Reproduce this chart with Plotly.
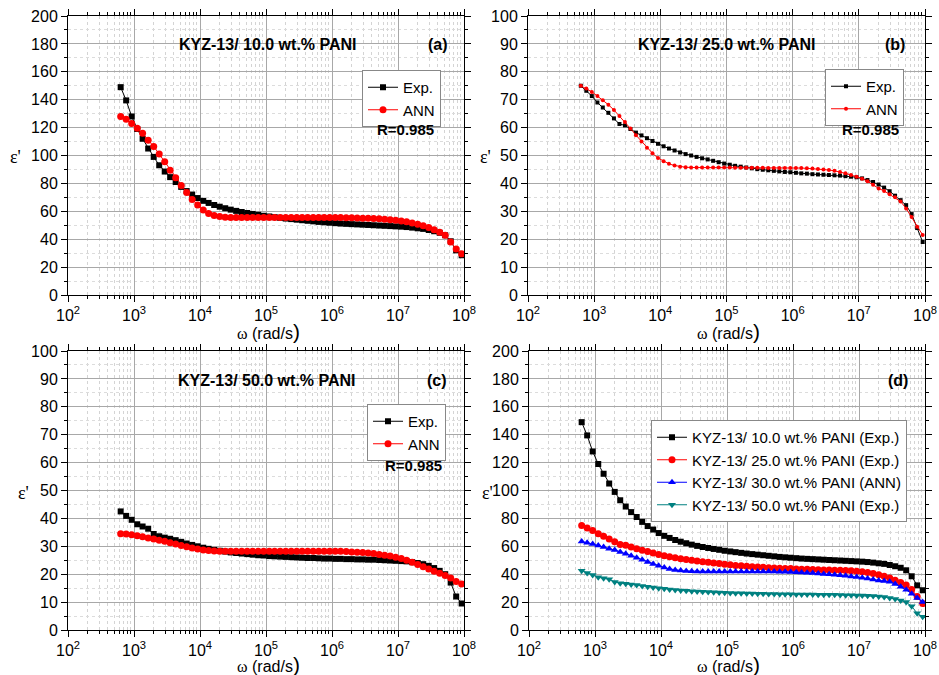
import plotly.graph_objects as go

# Angular frequency grid (rad/s), 12 points per decade
omega = [
    6.28e2, 7.61e2, 9.22e2, 1.12e3, 1.35e3, 1.64e3, 1.99e3, 2.41e3, 2.92e3, 3.53e3, 4.28e3, 5.19e3,
    6.28e3, 7.61e3, 9.22e3, 1.12e4, 1.35e4, 1.64e4, 1.99e4, 2.41e4, 2.92e4, 3.53e4, 4.28e4, 5.19e4,
    6.28e4, 7.61e4, 9.22e4, 1.12e5, 1.35e5, 1.64e5, 1.99e5, 2.41e5, 2.92e5, 3.53e5, 4.28e5, 5.19e5,
    6.28e5, 7.61e5, 9.22e5, 1.12e6, 1.35e6, 1.64e6, 1.99e6, 2.41e6, 2.92e6, 3.53e6, 4.28e6, 5.19e6,
    6.28e6, 7.61e6, 9.22e6, 1.12e7, 1.35e7, 1.64e7, 1.99e7, 2.41e7, 2.92e7, 3.53e7, 4.28e7, 5.19e7,
    6.28e7, 7.61e7, 9.22e7,
]

# KYZ-13 / 10.0 wt.% PANI
eps_10_exp = [
    149, 139.5, 128, 119, 112, 105, 99, 93, 88.5, 84.5, 81, 77.5,
    74.5, 72, 69.5, 67.5, 66, 64.5, 63.3, 62.2, 61.2, 60.3, 59.5, 58.8,
    58.1, 57.5, 56.8, 56.3, 55.8, 55.3, 54.8, 54.4, 54, 53.6, 53.2, 52.8,
    52.4, 52.1, 51.8, 51.5, 51.2, 51, 50.8, 50.6, 50.4, 50.2, 50, 49.8,
    49.6, 49.4, 49.2, 49, 48.7, 48.3, 47.8, 47.4, 46.6, 45.7, 44.6, 42.8,
    38.5, 32, 28.5,
]
eps_10_ann = [
    128, 126, 123, 119.5, 116, 111, 106.5, 101, 95.5, 89.5, 84, 78.5,
    73.5, 68.5, 64.5, 61, 58.5, 57, 56.2, 55.8, 55.6, 55.5, 55.5, 55.5,
    55.5, 55.5, 55.5, 55.5, 55.5, 55.5, 55.5, 55.5, 55.5, 55.5, 55.5, 55.5,
    55.5, 55.5, 55.5, 55.5, 55.5, 55.4, 55.3, 55.2, 55.1, 55, 54.8, 54.6,
    54.3, 54, 53.6, 53.1, 52.5, 51.7, 50.8, 49.7, 48.4, 46.8, 45, 42.8,
    38, 33, 29.5,
]

# KYZ-13 / 25.0 wt.% PANI
eps_25_exp = [
    75, 73.2, 71.3, 69, 67.2, 65.3, 63.3, 61.3, 60.8, 59.5, 58.2, 57.2,
    56.2, 55.2, 54.2, 53.3, 52.5, 51.8, 51.1, 50.5, 50, 49.5, 49, 48.6,
    48.1, 47.6, 47.1, 46.7, 46.3, 46, 45.7, 45.4, 45.1, 44.9, 44.7, 44.5,
    44.3, 44.1, 44, 43.8, 43.6, 43.5, 43.3, 43.2, 43.1, 43, 42.9, 42.8,
    42.6, 42.4, 42.2, 41.8, 41.2, 40.5, 39.6, 38.5, 37.2, 35.6, 34, 32.2,
    29, 24, 19,
]
eps_25_ann = [
    75, 74, 72.8, 71.3, 69.8, 68.2, 66.3, 64.2, 62, 59.7, 57.3, 55,
    52.8, 50.8, 49.1, 47.9, 47, 46.4, 46, 45.8, 45.7, 45.7, 45.7, 45.7,
    45.7, 45.7, 45.7, 45.7, 45.6, 45.6, 45.6, 45.6, 45.6, 45.6, 45.5, 45.5,
    45.5, 45.5, 45.5, 45.5, 45.5, 45.4, 45.3, 45.2, 45, 44.8, 44.5, 44.1,
    43.6, 43, 42.4, 41.7, 40.8, 39.5, 38.2, 37.3, 36.1, 35, 33.5, 31,
    28, 24.5, 21.5,
]

# KYZ-13 / 30.0 wt.% PANI (network prediction)
eps_30_ann = [
    63.5, 62.5, 61.6, 60.5, 59.5, 58.3, 57.3, 56, 54.6, 53.2, 51.8, 50.3,
    48.8, 47.3, 46, 44.8, 43.8, 43.1, 42.6, 42.3, 42.1, 42, 42, 42,
    42, 42, 42, 42, 42, 42, 42, 42, 42, 42, 42, 41.9,
    41.8, 41.7, 41.6, 41.4, 41.2, 41, 40.8, 40.5, 40.2, 39.9, 39.6, 39.2,
    38.8, 38.4, 38, 37.5, 36.9, 36.2, 35.5, 35.2, 34.5, 33, 31, 28.8,
    26, 23, 20,
]

# KYZ-13 / 50.0 wt.% PANI
eps_50_exp = [
    42.5, 40.9, 39.5, 37.9, 37.1, 36.3, 34.4, 33.6, 33.1, 32.7, 32.2, 31.6,
    31, 30.5, 30, 29.5, 29.1, 28.7, 28.4, 28.1, 27.8, 27.6, 27.4, 27.2,
    27, 26.8, 26.7, 26.5, 26.4, 26.3, 26.2, 26.1, 26, 25.9, 25.8, 25.8,
    25.7, 25.6, 25.6, 25.5, 25.5, 25.4, 25.4, 25.3, 25.3, 25.2, 25.2, 25.1,
    25, 24.9, 24.8, 24.7, 24.6, 24.3, 24, 23.6, 23, 22.2, 21.2, 20,
    17, 12, 9.5,
]
eps_50_ann = [
    34.5, 34.4, 34.1, 33.8, 33.4, 33, 32.6, 32.2, 31.8, 31.3, 30.8, 30.3,
    29.8, 29.4, 29, 28.7, 28.5, 28.3, 28.2, 28.2, 28.2, 28.2, 28.2, 28.2,
    28.2, 28.2, 28.2, 28.2, 28.2, 28.2, 28.2, 28.2, 28.2, 28.2, 28.2, 28.2,
    28.2, 28.2, 28.2, 28.2, 28.2, 28.1, 28, 27.9, 27.8, 27.6, 27.4, 27.1,
    26.8, 26.5, 26.1, 25.6, 25, 24.3, 23.5, 22.7, 21.9, 21.1, 20.3, 19.5,
    18.6, 17.4, 16.5,
]

panel_titles = ["KYZ-13/ 10.0 wt.% PANI", "KYZ-13/ 25.0 wt.% PANI", "KYZ-13/ 50.0 wt.% PANI"]
panel_tags = ["(a)", "(b)", "(c)", "(d)"]
r_label = "R=0.985"
x_tick_vals = [1e2, 1e3, 1e4, 1e5, 1e6, 1e7, 1e8]
x_tick_text = ["10<sup>2</sup>", "10<sup>3</sup>", "10<sup>4</sup>", "10<sup>5</sup>",
               "10<sup>6</sup>", "10<sup>7</sup>", "10<sup>8</sup>"]

FONT = "Liberation Sans, Arial, sans-serif"
SERIF = "Liberation Serif, Times New Roman, serif"
BLACK, RED, BLUE, TEAL = "#000000", "#ff0000", "#0000ff", "#008080"

W, H = 939, 675
def px(x):
    return x / W
def py(y):
    return 1 - y / H

# panel boxes in pixels: (left, right, top, bottom)
boxes = {
    1: (68, 464, 16, 295),
    2: (528, 925, 16, 295),
    3: (68, 464, 351, 630),
    4: (529, 925, 351, 630),
}
yranges = {1: 200, 2: 100, 3: 100, 4: 200}

fig = go.Figure()

def add(i, y, name, color, symbol, size, legend):
    fig.add_trace(go.Scatter(
        x=omega, y=y, name=name, mode="lines+markers",
        line=dict(color=color, width=1),
        marker=dict(symbol=symbol, size=size, color=color),
        xaxis="x" if i == 1 else f"x{i}", yaxis="y" if i == 1 else f"y{i}",
        legend=legend,
    ))

add(1, eps_10_exp, "Exp.", BLACK, "square", 6, "legend")
add(1, eps_10_ann, "ANN", RED, "circle", 7, "legend")
add(2, eps_25_exp, "Exp.", BLACK, "square", 4, "legend2")
add(2, eps_25_ann, "ANN", RED, "circle", 4, "legend2")
add(3, eps_50_exp, "Exp.", BLACK, "square", 6, "legend3")
add(3, eps_50_ann, "ANN", RED, "circle", 7, "legend3")
add(4, eps_10_exp, "KYZ-13/ 10.0 wt.% PANI (Exp.)", BLACK, "square", 6, "legend4")
add(4, eps_25_exp, "KYZ-13/ 25.0 wt.% PANI (Exp.)", RED, "circle", 7, "legend4")
add(4, eps_30_ann, "KYZ-13/ 30.0 wt.% PANI (ANN)", BLUE, "triangle-up", 7, "legend4")
add(4, eps_50_exp, "KYZ-13/ 50.0 wt.% PANI (Exp.)", TEAL, "triangle-down", 7, "legend4")

layout = dict(
    width=W, height=H, margin=dict(l=0, r=0, t=0, b=0),
    paper_bgcolor="white", plot_bgcolor="white",
    font=dict(family=FONT, size=15, color="black"),
)

for i, (l, r, t, b) in boxes.items():
    sx = "" if i == 1 else str(i)
    top = yranges[i]
    layout[f"xaxis{sx}"] = dict(
        type="log", range=[2, 8], domain=[px(l), px(r)], anchor=f"y{sx}",
        automargin=False, ticklabeloverflow="allow",
        tickmode="array", tickvals=x_tick_vals, ticktext=x_tick_text,
        ticks="outside", ticklen=6, tickwidth=1, tickcolor="black",
        showline=True, linecolor="black", linewidth=1, mirror="ticks",
        showgrid=True, gridcolor="#a8a8a8", gridwidth=1,
        tickfont=dict(size=16), zeroline=False,
        minor=dict(dtick="D1", ticks="outside", ticklen=3, tickcolor="black",
                   showgrid=True, gridcolor="#d4d4d4", griddash="dot", gridwidth=1),
    )
    layout[f"yaxis{sx}"] = dict(
        range=[0, top], domain=[py(b), py(t)], anchor=f"x{sx}",
        automargin=False, ticklabeloverflow="allow",
        dtick=top / 10, ticks="outside", ticklen=6, tickwidth=1, tickcolor="black",
        showline=True, linecolor="black", linewidth=1, mirror="ticks",
        showgrid=True, gridcolor="#a8a8a8", gridwidth=1,
        tickfont=dict(size=16), zeroline=False,
        minor=dict(dtick=top / 20, ticks="outside", ticklen=3, tickcolor="black",
                   showgrid=True, gridcolor="#dcdcdc", griddash="dot", gridwidth=1),
    )

legend_base = dict(
    bgcolor="white", bordercolor="#888888", borderwidth=1,
    xanchor="left", yanchor="top", tracegroupgap=0, itemwidth=30,
)
layout["legend"] = dict(legend_base, x=px(362), y=py(70), font=dict(size=15))
layout["legend2"] = dict(legend_base, x=px(825), y=py(69), font=dict(size=15))
layout["legend3"] = dict(legend_base, x=px(367), y=py(404), font=dict(size=15))
layout["legend4"] = dict(legend_base, x=px(651), y=py(420), font=dict(size=15))

fig.update_layout(**layout)

ann = []
def text(x, y, s, size=14, bold=False, family=FONT):
    ann.append(dict(
        x=px(x), y=py(y), xref="paper", yref="paper", showarrow=False,
        text=f"<b>{s}</b>" if bold else s,
        font=dict(size=size, family=family, color="black"),
        xanchor="center", yanchor="middle",
    ))

# panel headings and tags
text(268, 45, panel_titles[0], size=16, bold=True)
text(727, 44, panel_titles[1], size=16, bold=True)
text(267, 380, panel_titles[2], size=16, bold=True)
text(438, 45, panel_tags[0], size=16, bold=True)
text(895, 44, panel_tags[1], size=16, bold=True)
text(437, 380, panel_tags[2], size=16, bold=True)
text(898, 380, panel_tags[3], size=16, bold=True)
text(405, 129, r_label, size=15, bold=True)
text(870, 129, r_label, size=15, bold=True)
text(413, 465, r_label, size=15, bold=True)

# axis titles
x_title = ("<span style='font-family:Liberation Serif'>ω</span> (rad/s"
           "<span style='font-size:21px'>)</span>")
for xc, yc in [(268, 331), (728, 331), (268, 664), (728, 664)]:
    text(xc, yc, x_title, size=16)
eps_title = "ε'"
for xc, yc in [(15, 157), (486, 157), (23, 493), (487, 493)]:
    text(xc, yc, eps_title, size=18, family=SERIF)

fig.update_layout(annotations=ann)
fig.write_html("out.html")
